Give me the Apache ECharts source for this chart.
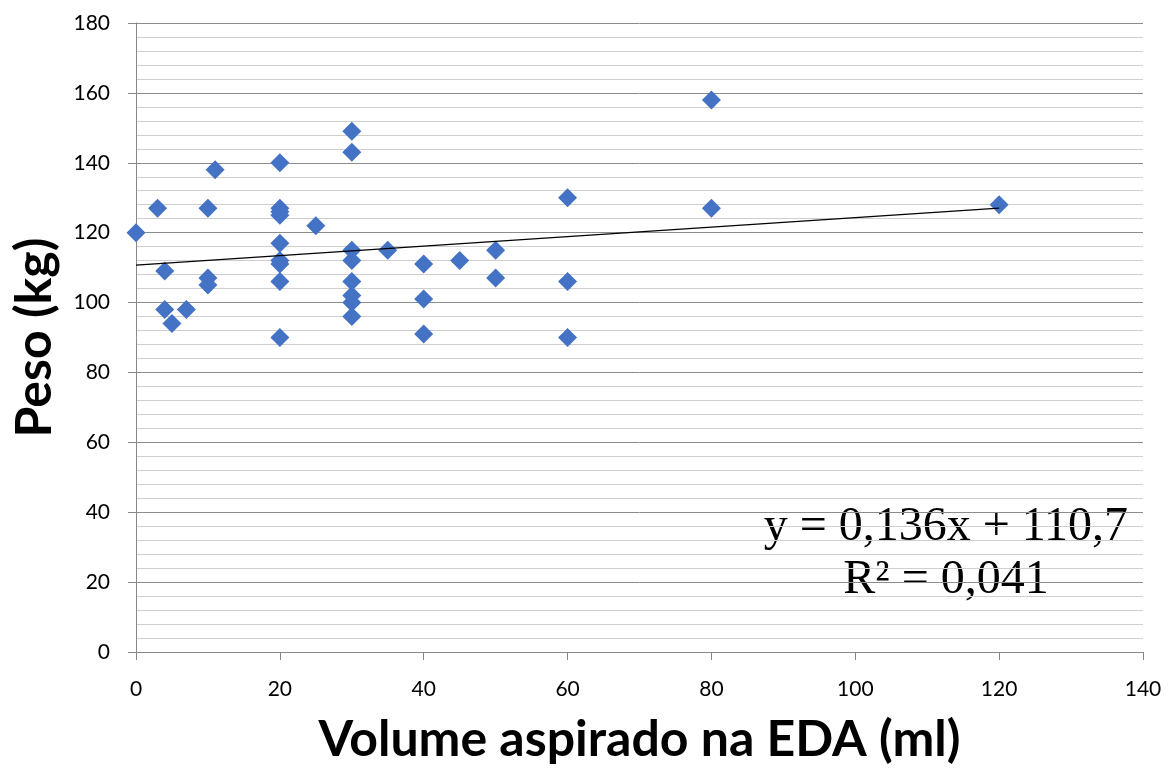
<!DOCTYPE html>
<html>
<head>
<meta charset="utf-8">
<script src="https://cdn.jsdelivr.net/npm/echarts@6/dist/echarts.min.js"></script>
<style>
  html, body { margin: 0; padding: 0; background: #fff; }
  #main { width: 1176px; height: 769px; }
</style>
</head>
<body>
<div id="main"></div>
<script>
// volume aspirado (ml) e peso (kg)
var volume = [0, 3, 4, 4, 5, 7, 10, 10, 10, 11,
  20, 20, 20, 20, 20, 20, 20, 20, 20,
  25, 30, 30, 30, 30, 30, 30, 30, 30,
  35, 40, 40, 40, 45, 50, 50, 60, 60, 60, 80, 80, 120];
var peso = [120, 127, 109, 98, 94, 98, 127, 107, 105, 138,
  140, 127, 126, 125, 117, 112, 111, 106, 90,
  122, 149, 143, 115, 112, 106, 102, 100, 96,
  115, 111, 101, 91, 112, 115, 107, 130, 106, 90, 158, 127, 128];

// linha de tendência (Excel)
var slope = 0.136;
var intercept = 110.7;
var trendX = [0, 120];

var points = volume.map(function (v, i) { return [v, peso[i]]; });
var trend = trendX.map(function (x) { return [x, slope * x + intercept]; });

var chart = echarts.init(document.getElementById('main'));
var labelFont = 'Lato, "Open Sans", sans-serif';

chart.setOption({
  animation: false,
  grid: { left: 136, right: 33, top: 23, bottom: 117, containLabel: false, outerBoundsMode: 'none' },
  xAxis: {
    type: 'value',
    min: 0, max: 140, interval: 20,
    name: 'Volume aspirado na EDA (ml)',
    nameLocation: 'middle',
    nameGap: 63,
    nameTextStyle: { fontSize: 50, fontWeight: 'bold', color: '#000', fontFamily: labelFont },
    axisLine: { show: true, onZero: false, lineStyle: { color: '#888', width: 1 } },
    axisTick: { show: true, length: 8, lineStyle: { color: '#888' } },
    axisLabel: { fontSize: 21, color: '#000', margin: 27, fontFamily: labelFont },
    splitLine: { show: false }
  },
  yAxis: {
    type: 'value',
    min: 0, max: 180, interval: 20,
    name: 'Peso (kg)',
    nameLocation: 'middle',
    nameGap: 76,
    nameTextStyle: { fontSize: 50, fontWeight: 'bold', color: '#000', fontFamily: labelFont },
    axisLine: { show: true, lineStyle: { color: '#888', width: 1 } },
    axisTick: { show: true, length: 8, lineStyle: { color: '#888' } },
    axisLabel: { fontSize: 21, color: '#000', margin: 26, fontFamily: labelFont },
    splitLine: { show: true, lineStyle: { color: '#8c8c8c', width: 1 } },
    minorTick: { show: false, splitNumber: 5 },
    minorSplitLine: { show: true, lineStyle: { color: '#cfcfcf', width: 1 } }
  },
  series: [
    {
      type: 'scatter',
      data: points,
      symbol: 'diamond',
      symbolSize: [19, 19],
      itemStyle: { color: '#4472C4', opacity: 1 },
      z: 3
    },
    {
      type: 'line',
      data: trend,
      showSymbol: false,
      lineStyle: { color: '#000', width: 1.2 },
      z: 4
    }
  ],
  graphic: [
    {
      type: 'text',
      x: 1128, y: 527,
      style: {
        text: 'y = 0,136x + 110,7',
        fontSize: 48, fontFamily: 'Liberation Serif', fill: '#000',
        textAlign: 'right', textVerticalAlign: 'middle'
      }
    },
    {
      type: 'text',
      x: 946, y: 580,
      style: {
        text: 'R² = 0,041',
        fontSize: 48, fontFamily: 'Liberation Serif', fill: '#000',
        textAlign: 'center', textVerticalAlign: 'middle'
      }
    }
  ]
});
</script>
</body>
</html>
